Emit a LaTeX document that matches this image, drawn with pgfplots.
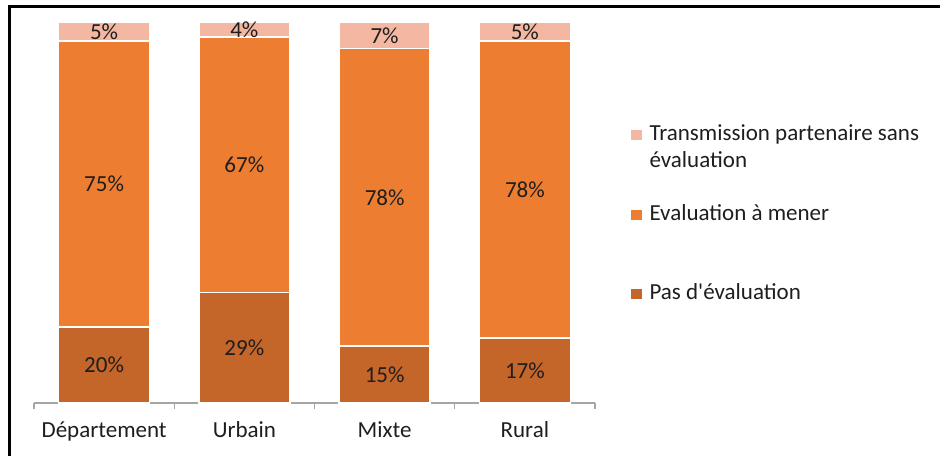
\documentclass[border=0pt]{standalone}
\usepackage{pgfplots}
\pgfplotsset{compat=1.18}
\usepackage{fontspec}
\setmainfont{Carlito}

\definecolor{cLight}{HTML}{F4B8A2}
\definecolor{cMid}{HTML}{ED7D31}
\definecolor{cDark}{HTML}{C4652A}
\definecolor{cAxis}{HTML}{A6A6A6}
\definecolor{cText}{HTML}{1E1E1E}

\newcommand{\lab}{\fontsize{23}{27}\selectfont}

\begin{document}
\begin{tikzpicture}
\useasboundingbox (0,0) rectangle (940pt,456pt);
\draw[line width=3pt] (9.5pt,0) -- (9.5pt,449pt) -- (940pt,449pt);

\begin{axis}[
    at={(34pt,53pt)}, anchor=south west,
    scale only axis, width=561pt, height=381pt,
    ybar stacked, bar width=91pt,
    xmin=-0.5, xmax=3.5, ymin=0, ymax=100,
    axis x line*=bottom, axis y line=none,
    x axis line style={-, draw=cAxis, line width=1.3pt},
    xtick={0,1,2,3},
    xticklabels={Département,Urbain,Mixte,Rural},
    major tick length=0pt,
    minor xtick={-0.5,0.5,1.5,2.5,3.5},
    minor tick length=6pt,
    tick align=outside,
    tick style={draw=cAxis, line width=1.3pt},
    xticklabel style={font=\lab, text=cText, anchor=base, yshift=-34pt},
    legend image code/.code={\draw[#1,draw=none] (0pt,0pt) rectangle (10.5pt,10.5pt);},
    reverse legend,
    legend style={
        at={(1.0642,0.7375)}, anchor=north west,
        draw=none, fill=none, inner sep=0pt, outer sep=0pt,
        font=\lab, text=cText,
        cells={anchor=base west},
        nodes={inner sep=0pt, text depth=},
        row sep=30pt,
        /tikz/every odd column/.append style={column sep=8pt},
    },
]
\addplot[fill=cDark, draw=white, line width=1.5pt] coordinates {(0,20) (1,29) (2,15) (3,17)};
\addlegendentry{Pas d\textquotesingle évaluation\rule[-5pt]{0pt}{23pt}}
\addplot[fill=cMid, draw=white, line width=1.5pt] coordinates {(0,75) (1,67) (2,78) (3,78)};
\addlegendentry{Evaluation à mener\rule[-31pt]{0pt}{49pt}}
\addplot[fill=cLight, draw=white, line width=1.5pt] coordinates {(0,5) (1,4) (2,7) (3,5)};
\addlegendentry{\parbox[t]{300pt}{\rule{0pt}{18pt}Transmission partenaire sans\\évaluation\rule[-5pt]{0pt}{5pt}}}
\end{axis}

% data labels, at the middle of each segment
\begin{axis}[
    at={(34pt,53pt)}, anchor=south west,
    scale only axis, width=561pt, height=381pt,
    xmin=-0.5, xmax=3.5, ymin=0, ymax=100,
    hide axis, clip=false,
    point meta=explicit,
    /pgf/number format/assume math mode=true,
    nodes near coords={\pgfmathprintnumber{\pgfplotspointmeta}\%},
    nodes near coords align=center,
    every node near coord/.append style={font=\lab, text=cText, anchor=center},
]
\addplot[draw=none, mark=none] table[x=x, y=y, meta=v] {
x y v
0 10 20
1 14.5 29
2 7.5 15
3 8.5 17
};
\addplot[draw=none, mark=none] table[x=x, y=y, meta=v] {
x y v
0 57.5 75
1 62.5 67
2 54 78
3 56 78
};
\addplot[draw=none, mark=none] table[x=x, y=y, meta=v] {
x y v
0 97.5 5
1 98 4
2 96.5 7
3 97.5 5
};
\end{axis}
\end{tikzpicture}
\end{document}
